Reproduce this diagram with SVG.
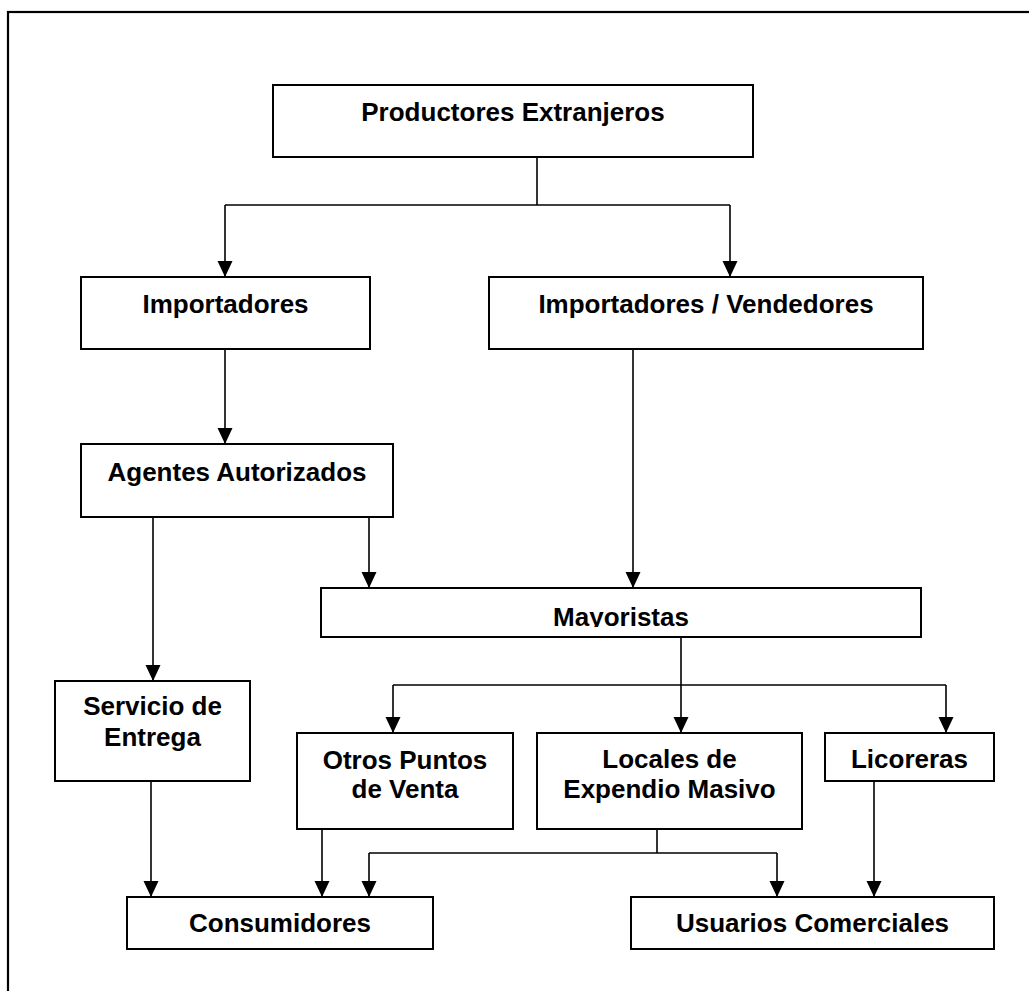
<svg xmlns="http://www.w3.org/2000/svg" width="1029" height="991" viewBox="0 0 1029 991">
<style>
.box{fill:#fff;stroke:#000;stroke-width:2}
.t{font-family:"Liberation Sans",Arial,sans-serif;font-weight:bold;font-size:26px;fill:#000;text-anchor:middle}
.c{fill:none;stroke:#000;stroke-width:1.6}
</style>
<defs>
<marker id="ah" markerUnits="userSpaceOnUse" markerWidth="18" markerHeight="18" viewBox="0 0 18 18" refX="16" refY="9" orient="auto">
<path d="M0,1.5 L16,9 L0,16.5 Z" fill="#000"/>
</marker>
<clipPath id="mclip"><rect x="321" y="588" width="600" height="39"/></clipPath>
</defs>
<rect x="8" y="12" width="1040" height="1000" fill="none" stroke="#000" stroke-width="2.2"/>
<g id="connectors">
<path class="c" d="M537,157 V205"/>
<path class="c" d="M225,205 H730"/>
<path class="c" d="M225,205 V277" marker-end="url(#ah)"/>
<path class="c" d="M730,205 V277" marker-end="url(#ah)"/>
<path class="c" d="M225,349 V444" marker-end="url(#ah)"/>
<path class="c" d="M633,349 V588" marker-end="url(#ah)"/>
<path class="c" d="M369,517 V588" marker-end="url(#ah)"/>
<path class="c" d="M153,517 V681" marker-end="url(#ah)"/>
<path class="c" d="M681,637 V733" marker-end="url(#ah)"/>
<path class="c" d="M393,685 H946"/>
<path class="c" d="M393,685 V733" marker-end="url(#ah)"/>
<path class="c" d="M946,685 V733" marker-end="url(#ah)"/>
<path class="c" d="M151,781 V897" marker-end="url(#ah)"/>
<path class="c" d="M322,829 V897" marker-end="url(#ah)"/>
<path class="c" d="M657,829 V853"/>
<path class="c" d="M369,853 H777"/>
<path class="c" d="M369,853 V897" marker-end="url(#ah)"/>
<path class="c" d="M777,853 V897" marker-end="url(#ah)"/>
<path class="c" d="M874,781 V897" marker-end="url(#ah)"/>
</g>
<g id="productores">
<rect class="box" x="273" y="85" width="480" height="72"/>
<text class="t" x="513" y="121">Productores Extranjeros</text>
</g>
<g id="importadores">
<rect class="box" x="81" y="277" width="289" height="72"/>
<text class="t" x="225.5" y="313">Importadores</text>
</g>
<g id="importadores-vendedores">
<rect class="box" x="489" y="277" width="434" height="72"/>
<text class="t" x="706" y="313">Importadores / Vendedores</text>
</g>
<g id="agentes">
<rect class="box" x="81" y="444" width="312" height="73"/>
<text class="t" x="237" y="481">Agentes Autorizados</text>
</g>
<g id="mayoristas">
<rect class="box" x="321" y="588" width="600" height="49"/>
<text class="t" x="621" y="626" clip-path="url(#mclip)">Mayoristas</text>
</g>
<g id="servicio">
<rect class="box" x="55" y="681" width="195" height="100"/>
<text class="t" x="152.5" y="715">Servicio de</text>
<text class="t" x="152.5" y="746">Entrega</text>
</g>
<g id="otros">
<rect class="box" x="297" y="733" width="216" height="96"/>
<text class="t" x="405" y="769">Otros Puntos</text>
<text class="t" x="405" y="798">de Venta</text>
</g>
<g id="locales">
<rect class="box" x="537" y="733" width="265" height="96"/>
<text class="t" x="669.5" y="768">Locales de</text>
<text class="t" x="669.5" y="798">Expendio Masivo</text>
</g>
<g id="licoreras">
<rect class="box" x="825" y="733" width="169" height="48"/>
<text class="t" x="909.5" y="768">Licoreras</text>
</g>
<g id="consumidores">
<rect class="box" x="127" y="897" width="306" height="52"/>
<text class="t" x="280" y="932">Consumidores</text>
</g>
<g id="usuarios">
<rect class="box" x="631" y="897" width="363" height="52"/>
<text class="t" x="812.5" y="932">Usuarios Comerciales</text>
</g>
</svg>
